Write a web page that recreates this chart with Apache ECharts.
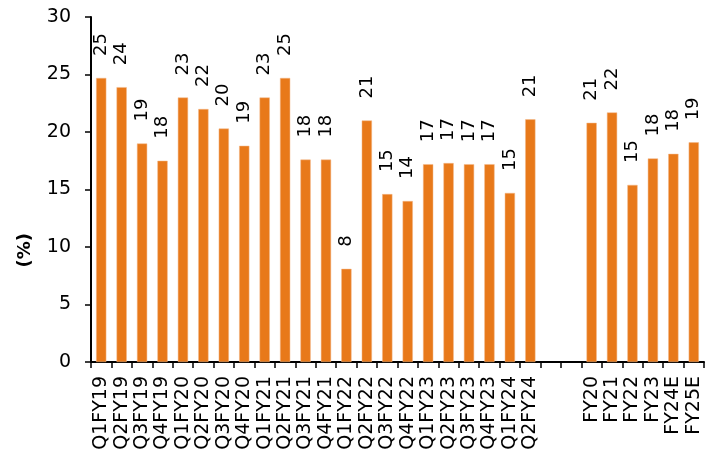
<!DOCTYPE html>
<html><head><meta charset="utf-8">
<script src="https://cdn.jsdelivr.net/npm/echarts@6/dist/echarts.min.js"></script>
<style>html,body{margin:0;padding:0;background:#fff}#c{width:713px;height:461px}</style>
</head><body><div id="c"></div>
<script>
const categories = ['Q1FY19','Q2FY19','Q3FY19','Q4FY19','Q1FY20','Q2FY20','Q3FY20','Q4FY20','Q1FY21','Q2FY21','Q3FY21','Q4FY21','Q1FY22','Q2FY22','Q3FY22','Q4FY22','Q1FY23','Q2FY23','Q3FY23','Q4FY23','Q1FY24','Q2FY24','','','FY20','FY21','FY22','FY23','FY24E','FY25E'];
const values = [24.7,23.9,19.0,17.5,23.0,22.0,20.3,18.8,23.0,24.7,17.6,17.6,8.1,21.0,14.6,14.0,17.2,17.3,17.2,17.2,14.7,21.1,null,null,20.8,21.7,15.4,17.7,18.1,19.1];
const yTicks = [0,5,10,15,20,25,30];
const yName = '(%)';
const chart = echarts.init(document.getElementById('c'));
const font = 'DejaVu Sans';
chart.setOption({
  animation:false,
  grid:{left:91,right:9,top:17,bottom:99,containLabel:false},
  graphic:[{type:'text',left:16,top:233,rotation:Math.PI/2,
    style:{text:yName,fontFamily:font,fontSize:18,fontWeight:'bold',fill:'#000'}}],
  xAxis:{type:'category',data:categories,
    axisLine:{lineStyle:{color:'#000',width:2}},
    axisTick:{show:true,length:6,lineStyle:{color:'#000',width:1.5},alignWithLabel:false},
    axisLabel:{rotate:90,interval:0,color:'#000',fontFamily:font,fontSize:19,margin:14}
  },
  yAxis:{type:'value',min:yTicks[0],max:yTicks[yTicks.length-1],interval:5,
    axisLine:{show:true,lineStyle:{color:'#000',width:2}},
    axisTick:{show:true,length:6,lineStyle:{color:'#000',width:1.5}},
    splitLine:{show:false},
    axisLabel:{color:'#000',fontFamily:font,fontSize:19,margin:20}
  },
  series:[{type:'bar',data:values,barCategoryGap:'50%',
    itemStyle:{color:'#E8791A',borderColor:'#F2B98A',borderWidth:0.5},
    label:{show:true,position:'top',rotate:90,align:'left',verticalAlign:'middle',distance:22,
      fontFamily:font,fontSize:18,color:'#000',
      formatter:p=>p.value==null?'':Math.round(p.value)}
  }]
});
</script></body></html>
